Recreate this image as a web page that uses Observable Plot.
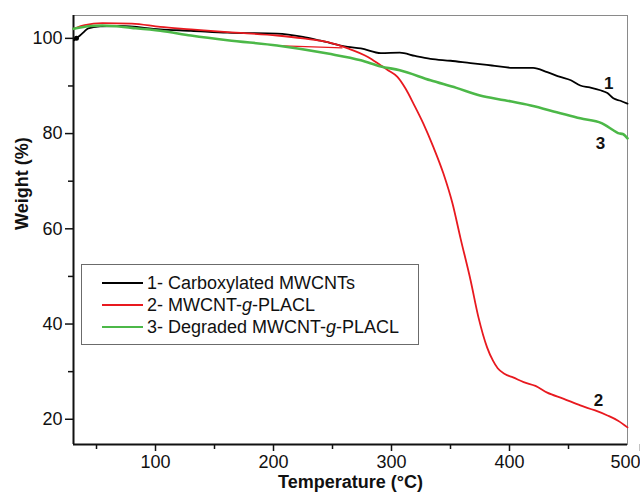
<!DOCTYPE html>
<html>
<head>
<meta charset="utf-8">
<script src="https://cdn.jsdelivr.net/npm/d3@7"></script>
<script src="https://cdn.jsdelivr.net/npm/@observablehq/plot@0.6"></script>
<style>
  html, body { margin: 0; padding: 0; background: #fff; }
  #wrap { position: relative; width: 640px; height: 496px; font-family: "Liberation Sans", Arial, sans-serif; }
  #legend { position: absolute; left: 81px; top: 264px; width: 336px; height: 79px; border: 1.5px solid #6b6b6b; background: #fff; }
  .row { position: absolute; left: 0; height: 22px; display: flex; align-items: center; font-size: 18px; color: #111; white-space: nowrap; }
  .row svg { margin-left: 20px; margin-right: 4px; }
</style>
</head>
<body>
<div id="wrap"></div>
<script>
// ---- data (temperature °C, weight %) ----
const seriesNames = ["1- Carboxylated MWCNTs", "2- MWCNT-g-PLACL", "3- Degraded MWCNT-g-PLACL"];
const seriesColors = ["#000000", "#e8191f", "#4cb848"];

const black = [
  [31, 99.6], [33, 100.0], [36, 100.6], [40, 101.5], [43, 102.1], [53, 102.5], [70, 102.6],
  [104, 101.9], [130, 101.6], [161, 101.2], [203, 101.0], [225, 100.3], [240, 99.5],
  [263, 98.2], [274, 97.9], [291, 96.9], [307, 97.0], [320, 96.3], [333, 95.7],
  [350, 95.3], [367, 94.8], [385, 94.3], [403, 93.8], [420, 93.8], [432, 92.9],
  [443, 91.9], [452, 91.2], [460, 90.1], [468, 89.7], [477, 89.1], [483, 88.5],
  [488, 87.4], [494, 86.9], [500, 86.3]
];
const red = [
  [30.5, 102.0], [40, 102.8], [55, 103.2], [80, 103.1], [104, 102.4], [130, 101.9],
  [161, 101.3], [203, 100.6], [225, 100.0], [246, 99.2], [263, 97.9], [280, 96.1],
  [291, 94.3], [297, 93.3], [305, 91.9], [312, 89.4], [318.6, 86.3], [327, 82.1],
  [335.6, 77.1], [344, 71.6], [351.7, 65.3], [358.5, 58.0], [367, 49.2], [373.7, 41.4],
  [381, 35.1], [386, 32.3], [390, 30.7], [396, 29.5], [403, 28.8], [412, 27.8],
  [422, 27.0], [432, 25.6], [446, 24.3], [460, 22.9], [472, 21.9], [483, 20.8],
  [492, 19.7], [500, 18.3]
];
const redLoop = [[208, 98.4], [246, 98.1], [258, 98.0]];
const green = [
  [30.5, 102.0], [45, 102.6], [55, 102.7], [80, 102.2], [104, 101.6], [130, 100.6],
  [161, 99.6], [203, 98.5], [246, 96.8], [274, 95.4], [291, 94.1], [307, 93.3],
  [333, 91.2], [355, 89.6], [375, 88.0], [396, 87.0], [418, 85.9], [440, 84.5],
  [460, 83.2], [478, 82.2], [488, 80.7], [492, 80.1], [496, 79.9], [500, 79.0]
];

const curveLabels = [
  { label: "1", t: 484, w: 90.5 },
  { label: "2", t: 475.4, w: 24.0 },
  { label: "3", t: 477, w: 78.0 }
];

const xDomain = [30.5, 500];
const yDomain = [14.7, 104.8];
const xMajor = [100, 200, 300, 400];
const xLast = [500];
const xMinor = [50, 150, 250, 350, 450];
const yMajor = [20, 40, 60, 80, 100];
const yMinor = [30, 50, 70, 90];

const toRows = (arr, s) => arr.map(([t, w]) => ({ t, w, s }));
const rows = [...toRows(black, 0), ...toRows(red, 1), ...toRows(green, 2)];

const chart = Plot.plot({
  width: 640,
  height: 496,
  marginLeft: 73,
  marginRight: 13,
  marginTop: 15,
  marginBottom: 52,
  style: { fontFamily: "Liberation Sans, Arial, sans-serif", fontSize: "18px", color: "#111", background: "#fff" },
  x: { domain: xDomain },
  y: { domain: yDomain },
  marks: [
    Plot.frame({ stroke: "#8a8a8a", strokeWidth: 1 }),
    Plot.axisX({ ticks: xMajor, tickSize: 7, tickPadding: 4, label: null, fontSize: 18, tickFormat: d3.format("d"), strokeWidth: 1.5 }),
    Plot.axisX({ ticks: xLast, tickSize: 7, tickPadding: 4, label: null, fontSize: 18, tickFormat: d3.format("d"), strokeWidth: 1.5, textAnchor: "end", dx: 13 }),
    Plot.axisX({ ticks: xMinor, tickSize: 5, text: null, label: null, strokeWidth: 1.5 }),
    Plot.axisY({ ticks: yMajor, tickSize: 8, tickPadding: 3, label: null, fontSize: 18, tickFormat: d3.format("d"), strokeWidth: 1.5 }),
    Plot.axisY({ ticks: yMinor, tickSize: 5, text: null, label: null, strokeWidth: 1.5 }),
    Plot.ruleX([xDomain[0]], { stroke: "#111", strokeWidth: 2 }),
    Plot.ruleY([yDomain[0]], { stroke: "#111", strokeWidth: 2 }),
    Plot.line(rows.filter(d => d.s === 0), { x: "t", y: "w", stroke: seriesColors[0], strokeWidth: 1.8, curve: "monotone-x" }),
    Plot.line(redLoop, { x: d => d[0], y: d => d[1], stroke: seriesColors[1], strokeWidth: 1.2 }),
    Plot.line(rows.filter(d => d.s === 1), { x: "t", y: "w", stroke: seriesColors[1], strokeWidth: 1.8, curve: "monotone-x" }),
    Plot.line(rows.filter(d => d.s === 2), { x: "t", y: "w", stroke: seriesColors[2], strokeWidth: 2.6, curve: "monotone-x" }),
    Plot.dot([black[1]], { x: d => d[0], y: d => d[1], r: 2.5, fill: "#000" }),
    Plot.text(curveLabels, { x: "t", y: "w", text: "label", fontWeight: "bold", fontSize: 17, fill: "#111" }),
    Plot.text(["Temperature (°C)"], { frameAnchor: "bottom", dy: 43, fontWeight: "bold", fontSize: 18, fill: "#111" }),
    Plot.text(["Weight (%)"], { frameAnchor: "left", dx: -51, rotate: -90, fontWeight: "bold", fontSize: 18, fill: "#111" })
  ]
});

const wrap = document.getElementById("wrap");
wrap.appendChild(chart);

// legend (HTML overlay inside the plot frame)
const legend = document.createElement("div");
legend.id = "legend";
const rowTops = [7, 29, 51];
seriesNames.forEach((name, i) => {
  const r = document.createElement("div");
  r.className = "row";
  r.style.top = rowTops[i] + "px";
  const html = name.replace("-g-", "-<i>g</i>-");
  r.innerHTML = `<svg width="41" height="4"><line x1="0" y1="2" x2="41" y2="2" stroke="${seriesColors[i]}" stroke-width="1.8"/></svg><span>${html}</span>`;
  legend.appendChild(r);
});
wrap.appendChild(legend);
</script>
</body>
</html>
